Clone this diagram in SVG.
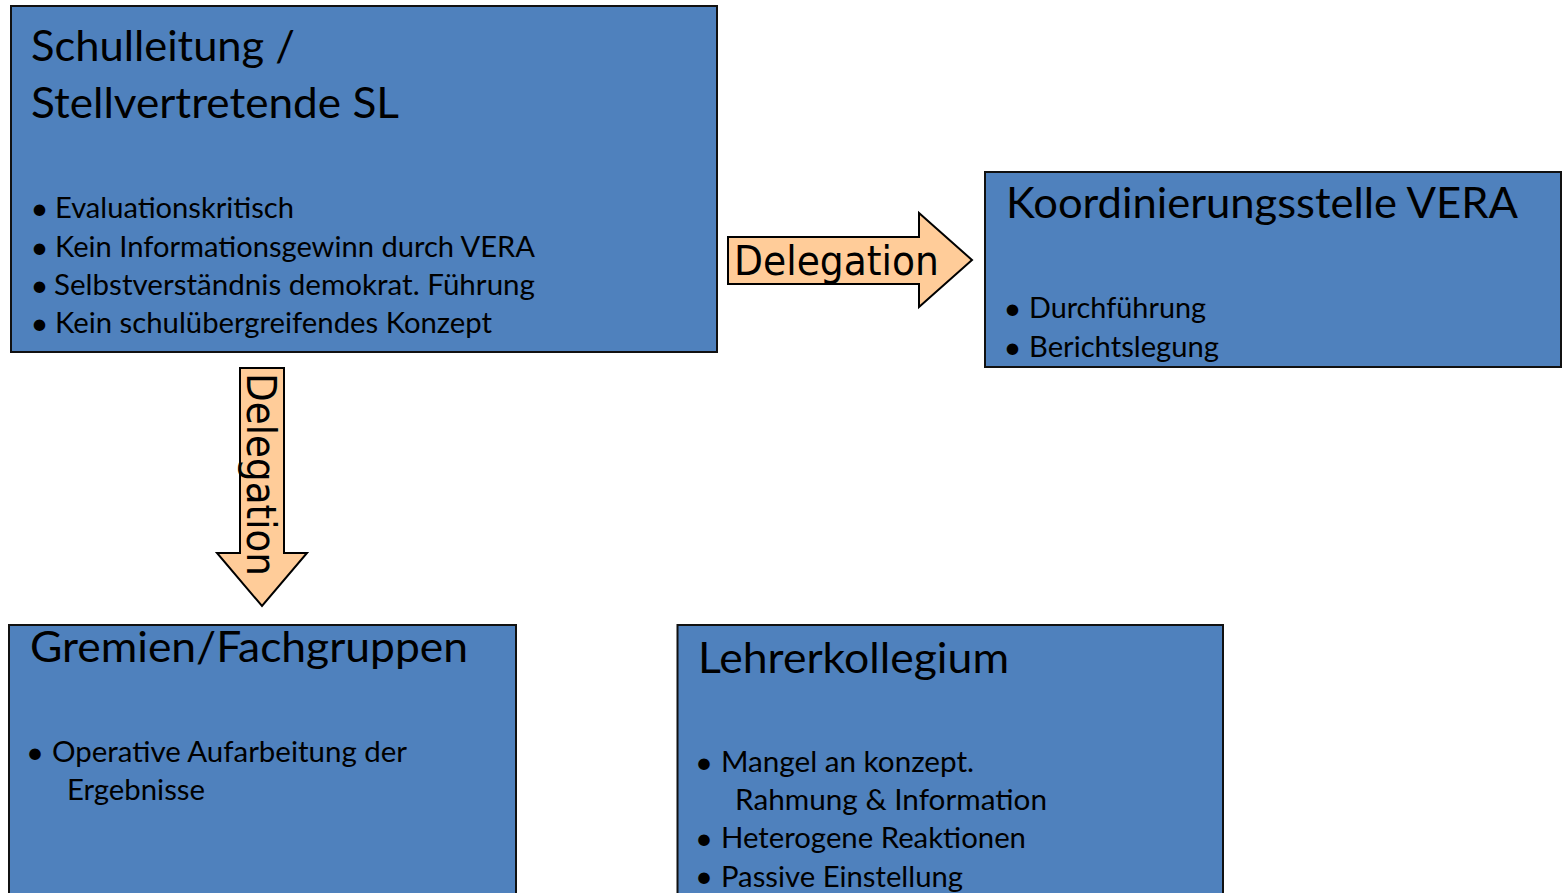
<svg xmlns="http://www.w3.org/2000/svg" width="1562" height="893" viewBox="0 0 1562 893">
<style>
.box{fill:#4F81BD;stroke:#111;stroke-width:2}
.arrow{fill:#FFCC99;stroke:#000;stroke-width:2;stroke-linejoin:miter}
.t{font-family:Lato,"Liberation Sans",sans-serif;font-size:43px;fill:#000}
.b{font-family:Lato,"Liberation Sans",sans-serif;font-size:29px;fill:#000}
.d{font-family:Lato,"Liberation Sans",sans-serif;font-size:31px;fill:#000;text-anchor:middle}
.lab{font-family:"DejaVu Sans",sans-serif;font-size:40px;fill:#000}
</style>
<rect width="1562" height="893" fill="#fff"/>
<g id="connectors">
<polygon class="arrow" points="728,237 919,237 919,213 972,260 919,307 919,284 728,284"/>
<text class="lab" x="734" y="275" textLength="205" lengthAdjust="spacingAndGlyphs">Delegation</text>
<polygon class="arrow" points="240,368 284,368 284,553 307,553 262,606 217,553 240,553"/>
<text class="lab" transform="translate(247,373) rotate(90)" x="0" y="0" textLength="203" lengthAdjust="spacingAndGlyphs">Delegation</text>
</g>
<g id="schulleitung">
<rect class="box" x="11" y="6" width="706" height="346"/>
<text class="t" x="31" y="61" textLength="264" lengthAdjust="spacingAndGlyphs">Schulleitung /</text>
<text class="t" x="31" y="118" textLength="368" lengthAdjust="spacingAndGlyphs">Stellvertretende SL</text>
<text class="d" x="39.5" y="218.5">•</text>
<text class="b" x="55" y="218" textLength="239" lengthAdjust="spacingAndGlyphs">Evaluationskritisch</text>
<text class="d" x="39.5" y="257.5">•</text>
<text class="b" x="55" y="257" textLength="480" lengthAdjust="spacingAndGlyphs">Kein Informationsgewinn durch VERA</text>
<text class="d" x="39.5" y="295.5">•</text>
<text class="b" x="54" y="295" textLength="481" lengthAdjust="spacingAndGlyphs">Selbstverständnis demokrat. Führung</text>
<text class="d" x="39.5" y="333.5">•</text>
<text class="b" x="55" y="333" textLength="437" lengthAdjust="spacingAndGlyphs">Kein schulübergreifendes Konzept</text>
</g>
<g id="koordinierungsstelle">
<rect class="box" x="985" y="172" width="576" height="195"/>
<text class="t" x="1006" y="218" textLength="512" lengthAdjust="spacingAndGlyphs">Koordinierungsstelle VERA</text>
<text class="d" x="1012.5" y="318.5">•</text>
<text class="b" x="1029" y="318" textLength="177" lengthAdjust="spacingAndGlyphs">Durchführung</text>
<text class="d" x="1012.5" y="357.5">•</text>
<text class="b" x="1029" y="357" textLength="190" lengthAdjust="spacingAndGlyphs">Berichtslegung</text>
</g>
<g id="gremien">
<rect class="box" x="9" y="625" width="507" height="300"/>
<text class="t" x="30" y="662" textLength="438" lengthAdjust="spacingAndGlyphs">Gremien/Fachgruppen</text>
<text class="d" x="35" y="762.5">•</text>
<text class="b" x="52" y="762" textLength="355" lengthAdjust="spacingAndGlyphs">Operative Aufarbeitung der</text>
<text class="b" x="67" y="800" textLength="138" lengthAdjust="spacingAndGlyphs">Ergebnisse</text>
</g>
<g id="lehrerkollegium">
<rect class="box" x="677.5" y="625" width="545.5" height="300"/>
<text class="t" x="698" y="673" textLength="311" lengthAdjust="spacingAndGlyphs">Lehrerkollegium</text>
<text class="d" x="704" y="772.5">•</text>
<text class="b" x="721" y="772" textLength="253" lengthAdjust="spacingAndGlyphs">Mangel an konzept.</text>
<text class="b" x="735" y="810" textLength="312" lengthAdjust="spacingAndGlyphs">Rahmung &amp; Information</text>
<text class="d" x="704" y="848.5">•</text>
<text class="b" x="721" y="848" textLength="305" lengthAdjust="spacingAndGlyphs">Heterogene Reaktionen</text>
<text class="d" x="704" y="886.5">•</text>
<text class="b" x="721" y="886.5" textLength="242" lengthAdjust="spacingAndGlyphs">Passive Einstellung</text>
</g>
</svg>
